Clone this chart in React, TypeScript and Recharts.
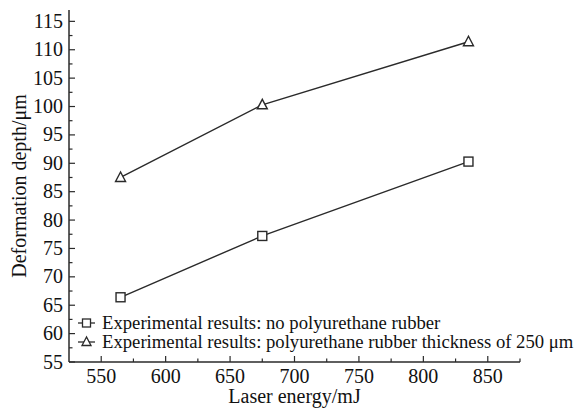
import { LineChart, Line, XAxis, YAxis, Legend, Label } from "recharts"

const energies = [565, 675, 835]
const noRubber = [66.4, 77.2, 90.3]
const withRubber = [87.5, 100.3, 111.4]

const xTicks = [550, 575, 600, 625, 650, 675, 700, 725, 750, 775, 800, 825, 850, 875]
const yTicks = [55, 57.5, 60, 62.5, 65, 67.5, 70, 72.5, 75, 77.5, 80, 82.5, 85, 87.5, 90, 92.5, 95, 97.5, 100, 102.5, 105, 107.5, 110, 112.5, 115]

const seriesNames = [
  "Experimental results: no polyurethane rubber",
  "Experimental results: polyurethane rubber thickness of 250 \u03bcm",
]

const data = energies.map((e, i) => ({ energy: e, noRubber: noRubber[i], withRubber: withRubber[i] }))

const FONT = '"Liberation Serif", "Times New Roman", serif'
const INK = "#2a2a2a"

const YTick = (props: any) => {
  const { x, y, payload } = props
  const ax = x + 6
  const major = Math.abs(payload.value % 5) < 1e-6
  return (
    <g>
      <line x1={ax} x2={ax + (major ? 6 : 3.5)} y1={y} y2={y} stroke={INK} strokeWidth={1.2} />
      {major && (
        <text x={x} y={y} dy={6.5} textAnchor="end" fontFamily={FONT} fontSize={20} fill="#111">
          {payload.value}
        </text>
      )}
    </g>
  )
}

const XTick = (props: any) => {
  const { x, y, payload } = props
  const ay = y - 8
  const major = Math.abs(payload.value % 50) < 1e-6
  return (
    <g>
      <line x1={x} x2={x} y1={ay} y2={ay - (major ? 6 : 3.5)} stroke={INK} strokeWidth={1.2} />
      {major && (
        <text x={x} y={y} dy={13} textAnchor="middle" fontFamily={FONT} fontSize={20} fill="#111">
          {payload.value}
        </text>
      )}
    </g>
  )
}

const SquareDot = (props: any) => {
  const { cx, cy } = props
  return <rect x={cx - 4.5} y={cy - 4.5} width={9} height={9} fill="#fff" stroke={INK} strokeWidth={1.4} />
}

const TriDot = (props: any) => {
  const { cx, cy } = props
  return (
    <polygon
      points={`${cx},${cy - 5.5} ${cx - 5},${cy + 4} ${cx + 5},${cy + 4}`}
      fill="#fff"
      stroke={INK}
      strokeWidth={1.4}
    />
  )
}

const LegendBox = () => (
  <div style={{ fontFamily: FONT, fontSize: 18.7, color: "#111", lineHeight: "19px", whiteSpace: "nowrap" }}>
    {seriesNames.map((name, i) => (
      <div key={name} style={{ display: "flex", alignItems: "center" }}>
        <svg width={24} height={19} style={{ marginRight: 2 }}>
          <line x1={2} x2={19} y1={10} y2={10} stroke={INK} strokeWidth={1.3} />
          {i === 0 ? (
            <rect x={6.5} y={6} width={8} height={8} fill="#fff" stroke={INK} strokeWidth={1.3} />
          ) : (
            <polygon points="10.5,5 6,13.5 15,13.5" fill="#fff" stroke={INK} strokeWidth={1.3} />
          )}
        </svg>
        <span>{name}</span>
      </div>
    ))}
  </div>
)

export default function App() {
  return (
    <div style={{ position: "absolute", left: 0, top: 0, background: "#fff" }}>
      <LineChart width={580} height={409} data={data} margin={{ top: 10, right: 60, bottom: 17, left: 0 }}>
        <XAxis
          type="number"
          dataKey="energy"
          domain={[525, 875]}
          ticks={xTicks}
          interval={0}
          height={30}
          tickSize={0}
          tickMargin={8}
          tick={<XTick />}
          stroke={INK}
          strokeWidth={1.5}
          allowDataOverflow
        >
          <Label
            value="Laser energy/mJ"
            position="insideBottom"
            offset={-11}
            style={{ fontFamily: FONT, fontSize: 20, fill: "#111" }}
          />
        </XAxis>
        <YAxis
          type="number"
          domain={[55, 117]}
          ticks={yTicks}
          interval={0}
          width={69}
          tickSize={0}
          tickMargin={6}
          tick={<YTick />}
          stroke={INK}
          strokeWidth={1.5}
          allowDataOverflow
        >
          <Label
            value={"Deformation depth/\u03bcm"}
            angle={-90}
            position="insideLeft"
            offset={19}
            style={{ textAnchor: "middle", fontFamily: FONT, fontSize: 20, fill: "#111" }}
          />
        </YAxis>
        <Legend
          layout="horizontal"
          verticalAlign="middle"
          align="center"
          content={<LegendBox />}
          wrapperStyle={{ position: "absolute", left: 76, top: 313, width: "auto" }}
        />
        <Line
          dataKey="noRubber"
          stroke={INK}
          strokeWidth={1.4}
          dot={<SquareDot />}
          isAnimationActive={false}
        />
        <Line
          dataKey="withRubber"
          stroke={INK}
          strokeWidth={1.4}
          dot={<TriDot />}
          isAnimationActive={false}
        />
      </LineChart>
    </div>
  )
}
